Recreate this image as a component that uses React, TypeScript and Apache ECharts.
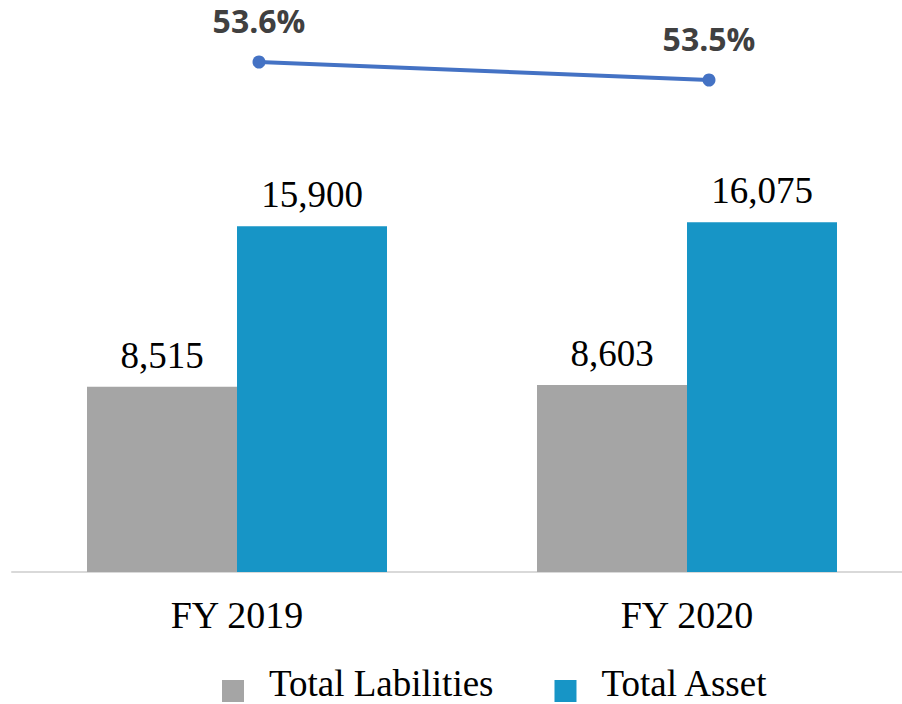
import React, { useEffect, useRef } from "react";
import * as echarts from "echarts";

const categories = ["FY 2019", "FY 2020"];
const liabilities = [8515, 8603];
const assets = [15900, 16075];
const ratio = [53.6, 53.5];
const legendNames = ["Total Labilities", "Total Asset"];

const SERIF = "'Liberation Serif', 'Times New Roman', serif";

export default function App() {
  const ref = useRef<HTMLDivElement>(null);
  useEffect(() => {
    if (!ref.current) return;
    const chart = echarts.init(ref.current, undefined, { renderer: "svg" });
    const fmt = (p: any) => Number(p.value).toLocaleString("en-US");
    chart.setOption({
      animation: false,
      backgroundColor: "#ffffff",
      grid: [
        { left: 12, top: 137, width: 900, height: 435, containLabel: false },
        { left: 34, top: 44, width: 900, height: 54, containLabel: false },
      ],
      legend: {
        data: legendNames,
        left: 222,
        top: 664,
        padding: 0,
        itemWidth: 22,
        itemHeight: 38,
        itemGap: 61,
        icon: "path://M0,0L0,0M0,16L22,16L22,38L0,38Z",
        textStyle: {
          fontFamily: SERIF,
          fontSize: 37,
          lineHeight: 28,
          color: "#000000",
          padding: [0, 0, 0, 20],
        },
      },
      xAxis: [
        {
          type: "category",
          gridIndex: 0,
          data: categories,
          axisLine: { show: true, lineStyle: { color: "#d9d9d9", width: 2 } },
          axisTick: { show: false },
          axisLabel: {
            fontFamily: SERIF,
            fontSize: 38,
            color: "#000000",
            margin: 24,
          },
        },
        {
          type: "category",
          gridIndex: 1,
          data: categories,
          show: false,
        },
      ],
      yAxis: [
        {
          type: "value",
          gridIndex: 0,
          min: 0,
          max: 20000,
          show: false,
          splitLine: { show: false },
        },
        {
          type: "value",
          gridIndex: 1,
          min: 53.4,
          max: 53.7,
          show: false,
          splitLine: { show: false },
        },
      ],
      series: [
        {
          name: legendNames[0],
          type: "bar",
          xAxisIndex: 0,
          yAxisIndex: 0,
          data: liabilities,
          barWidth: 150,
          barGap: "0%",
          itemStyle: { color: "#a5a5a5" },
          label: {
            show: true,
            position: "top",
            distance: 13,
            formatter: fmt,
            fontFamily: SERIF,
            fontSize: 37,
            color: "#000000",
          },
        },
        {
          name: legendNames[1],
          type: "bar",
          xAxisIndex: 0,
          yAxisIndex: 0,
          data: assets,
          barWidth: 150,
          barGap: "0%",
          itemStyle: { color: "#1795c6" },
          label: {
            show: true,
            position: "top",
            distance: 13,
            formatter: fmt,
            fontFamily: SERIF,
            fontSize: 37,
            color: "#000000",
          },
        },
        {
          name: "Ratio",
          type: "line",
          xAxisIndex: 1,
          yAxisIndex: 1,
          data: ratio,
          symbol: "circle",
          symbolSize: 13,
          lineStyle: { color: "#4472c4", width: 4 },
          itemStyle: { color: "#4472c4" },
          label: {
            show: true,
            position: "top",
            distance: 19,
            formatter: (p: any) => Number(p.value).toFixed(1) + "%",
            fontFamily: "'Open Sans', sans-serif",
            fontWeight: "bold",
            fontSize: 32,
            color: "#404040",
          },
        },
      ],
    });
    return () => chart.dispose();
  }, []);
  return (
    <div
      ref={ref}
      style={{ position: "fixed", left: 0, top: 0, width: 940, height: 740 }}
    />
  );
}
